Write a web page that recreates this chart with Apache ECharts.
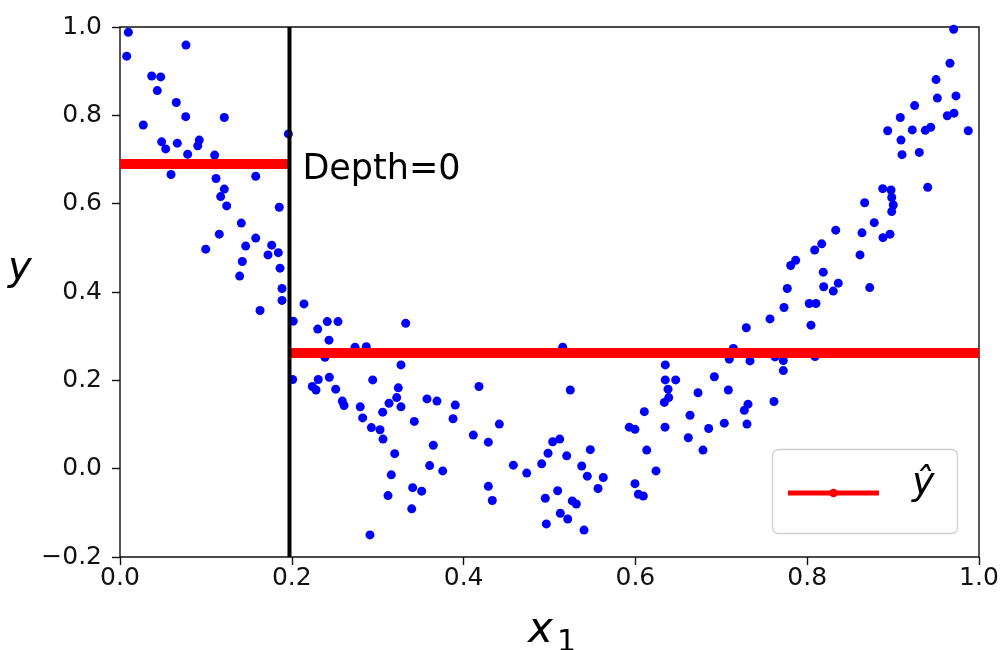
<!DOCTYPE html>
<html>
<head>
<meta charset="utf-8">
<title>Regression tree, depth 0</title>
<script src="https://cdn.jsdelivr.net/npm/echarts@6/dist/echarts.min.js"></script>
<style>
  html, body { margin: 0; padding: 0; background: #fff; }
  #chart { width: 1005px; height: 650px; }
</style>
</head>
<body>
<div id="chart"></div>
<script>
// Training samples (x1, y)
const xValues = [
  0.0097, 0.0078, 0.0768, 0.0369, 0.0474, 0.0434, 0.0655, 0.0765, 0.1214, 0.0271,
  0.1960, 0.0485, 0.0532, 0.0667, 0.0923, 0.0905, 0.0788, 0.1102, 0.0594, 0.1118,
  0.1580, 0.1214, 0.1172, 0.1242, 0.1854, 0.1412, 0.1156, 0.1580, 0.0998, 0.1463,
  0.1766, 0.1723, 0.1843, 0.1424, 0.1863, 0.1393, 0.1886, 0.1886, 0.1630, 0.0950,
  0.2142, 0.2017, 0.2010, 0.2413, 0.2538, 0.2302, 0.2433, 0.3326, 0.2736, 0.2867,
  0.2386, 0.3271, 0.2308, 0.2437, 0.2239, 0.2282, 0.2511, 0.2942, 0.3240, 0.3221,
  0.3132, 0.3271, 0.2588, 0.2608, 0.2797, 0.2825, 0.3058, 0.3574, 0.3690, 0.3903,
  0.3877, 0.3426, 0.2926, 0.3027, 0.3062, 0.4113, 0.4179, 0.3647, 0.3198, 0.3605,
  0.3757, 0.3158, 0.3407, 0.3512, 0.3120, 0.3396, 0.2910,
  0.5154, 0.5242, 0.4416, 0.4288, 0.5037, 0.5119, 0.4983, 0.5200, 0.5475, 0.4579,
  0.4735, 0.4909, 0.5375, 0.5440, 0.5626, 0.4288, 0.4334, 0.5095, 0.4951, 0.5565,
  0.5265, 0.5312, 0.5126, 0.5212, 0.4963, 0.5402,
  0.6104, 0.5929, 0.5995, 0.6132, 0.6240, 0.5995, 0.6034, 0.6092, 0.6348, 0.6348,
  0.6469, 0.6380, 0.6388, 0.6337, 0.6919, 0.6729, 0.7082, 0.6636, 0.6345, 0.6853,
  0.7035, 0.7299, 0.6616, 0.6787, 0.7311, 0.7268, 0.7613, 0.7567, 0.7291, 0.7140,
  0.7093, 0.7334, 0.7625, 0.7722, 0.7722, 0.8091,
  0.8332, 0.8781, 0.8638, 0.8882, 0.8964, 0.8169, 0.8087, 0.8615, 0.7866, 0.7808,
  0.8187, 0.7768, 0.8192, 0.8362, 0.8304, 0.8728, 0.8024, 0.8102, 0.7730, 0.8044,
  0.8669, 0.9002, 0.8984, 0.8984, 0.8879, 0.8976, 0.9403, 0.9705, 0.9662, 0.9500,
  0.9515, 0.9732, 0.9251, 0.9084, 0.9631, 0.9709, 0.8937, 0.9223, 0.9375, 0.9438,
  0.9875, 0.9092, 0.9104, 0.9305
];
const yValues = [
  0.988, 0.934, 0.959, 0.889, 0.887, 0.856, 0.829, 0.797, 0.795, 0.778,
  0.758, 0.740, 0.724, 0.737, 0.744, 0.731, 0.712, 0.710, 0.666, 0.657,
  0.662, 0.633, 0.616, 0.595, 0.592, 0.556, 0.531, 0.522, 0.497, 0.504,
  0.506, 0.484, 0.489, 0.469, 0.454, 0.436, 0.408, 0.381, 0.358, 0.690,
  0.373, 0.334, 0.202, 0.333, 0.333, 0.316, 0.291, 0.329, 0.275, 0.276,
  0.252, 0.235, 0.202, 0.207, 0.186, 0.178, 0.180, 0.201, 0.183, 0.161,
  0.148, 0.140, 0.153, 0.143, 0.140, 0.115, 0.128, 0.158, 0.153, 0.144,
  0.113, 0.107, 0.093, 0.088, 0.067, 0.076, 0.186, 0.053, 0.034, 0.007,
  -0.005, -0.014, -0.043, -0.051, -0.061, -0.091, -0.150,
  0.275, 0.178, 0.101, 0.060, 0.061, 0.067, 0.035, 0.029, 0.043, 0.008,
  -0.010, 0.011, 0.006, -0.017, -0.020, -0.040, -0.072, -0.050, -0.067, -0.045,
  -0.073, -0.080, -0.101, -0.114, -0.125, -0.139,
  0.129, 0.094, 0.089, 0.042, -0.005, -0.034, -0.058, -0.062, 0.235, 0.201,
  0.201, 0.180, 0.161, 0.150, 0.208, 0.172, 0.178, 0.121, 0.094, 0.091,
  0.103, 0.101, 0.070, 0.042, 0.146, 0.132, 0.152, 0.339, 0.319, 0.272,
  0.248, 0.244, 0.253, 0.245, 0.222, 0.254,
  0.540, 0.557, 0.534, 0.523, 0.531, 0.509, 0.495, 0.484, 0.472, 0.460,
  0.445, 0.408, 0.412, 0.420, 0.402, 0.410, 0.374, 0.374, 0.365, 0.325,
  0.602, 0.597, 0.582, 0.614, 0.634, 0.631, 0.637, 0.995, 0.918, 0.881,
  0.839, 0.844, 0.822, 0.795, 0.799, 0.805, 0.765, 0.767, 0.766, 0.773,
  0.765, 0.744, 0.711, 0.716
];

// Depth-0 tree: one split and the two leaf predictions
const splitThreshold = 0.1973;
const leafValues = [0.690, 0.262];
const xRange = [0, 1];
const yRange = [-0.2, 1.0];
const depthLabel = 'Depth=0';
const legendLabel = 'ŷ';

const points = xValues.map((x, i) => [x, yValues[i]]);
const leftLeaf = [[xRange[0], leafValues[0]], [splitThreshold, leafValues[0]]];
const rightLeaf = [[splitThreshold, leafValues[1]], [xRange[1], leafValues[1]]];
const splitLine = [[splitThreshold, yRange[0]], [splitThreshold, yRange[1]]];

const FONT = 'DejaVu Sans';
const tickFmt = v => (v < -1e-9 ? '\u2212' : '') + Math.abs(v).toFixed(1);

const chart = echarts.init(document.getElementById('chart'), null, { renderer: 'canvas' });

chart.setOption({
  animation: false,
  backgroundColor: '#ffffff',
  grid: {
    left: 120, right: 26, top: 27, bottom: 93,
    show: true, borderColor: '#111', borderWidth: 1.4, backgroundColor: 'transparent'
  },
  xAxis: {
    type: 'value', min: xRange[0], max: xRange[1], interval: 0.2,
    splitLine: { show: false },
    axisLine: { show: false, onZero: false },
    axisTick: { show: true, length: 8, lineStyle: { color: '#111', width: 1.4 } },
    axisLabel: { fontFamily: FONT, fontSize: 25, color: '#111', margin: 9, formatter: tickFmt }
  },
  yAxis: {
    type: 'value', min: yRange[0], max: yRange[1], interval: 0.2,
    splitLine: { show: false },
    axisLine: { show: false, onZero: false },
    axisTick: { show: true, length: 8, lineStyle: { color: '#111', width: 1.4 } },
    axisLabel: { fontFamily: FONT, fontSize: 25, color: '#111', margin: 18, formatter: tickFmt }
  },
  series: [
    {
      name: 'samples', type: 'scatter', data: points,
      symbol: 'circle', symbolSize: 9,
      itemStyle: { color: '#0000ff', opacity: 1 }, z: 2
    },
    {
      name: legendLabel, type: 'line', data: leftLeaf,
      symbol: 'none', lineStyle: { color: '#ff0000', width: 10, cap: 'butt' }, z: 3
    },
    {
      name: legendLabel, type: 'line', data: rightLeaf,
      symbol: 'none', lineStyle: { color: '#ff0000', width: 10, cap: 'butt' }, z: 3
    },
    {
      name: 'split', type: 'line', data: splitLine,
      symbol: 'none', lineStyle: { color: '#000000', width: 4 }, z: 4
    }
  ]
});

// Annotation, axis titles and legend placed from data coordinates
const depthPos = chart.convertToPixel({ gridIndex: 0 }, [0.21, 0.65]);
chart.setOption({
  graphic: [
    {
      type: 'text', left: depthPos[0] + 2, top: depthPos[1] - 29,
      style: { text: depthLabel, fontFamily: FONT, fontSize: 35, fill: '#000' }, z: 10
    },
    {
      type: 'text', left: 8, top: 250,
      style: { text: 'y', fontFamily: FONT, fontStyle: 'italic', fontSize: 40, fill: '#000' }, z: 10
    },
    {
      type: 'text', left: 528, top: 610,
      style: { text: 'x', fontFamily: FONT, fontStyle: 'italic', fontSize: 42, fill: '#000' }, z: 10
    },
    {
      type: 'text', left: 557, top: 628,
      style: { text: '1', fontFamily: FONT, fontSize: 30, fill: '#000' }, z: 10
    },
    {
      type: 'group', z: 10,
      children: [
        {
          type: 'rect', shape: { x: 772.5, y: 449.5, width: 185, height: 84, r: 6 },
          style: { fill: 'rgba(255,255,255,0.8)', stroke: '#d0d0d0', lineWidth: 1.3 }
        },
        {
          type: 'line', shape: { x1: 788, y1: 493, x2: 879, y2: 493 },
          style: { stroke: '#ff0000', lineWidth: 5 }
        },
        {
          type: 'circle', shape: { cx: 833.5, cy: 493, r: 4.3 },
          style: { fill: '#ff0000' }
        },
        {
          type: 'text', left: 912, top: 465,
          style: { text: legendLabel, fontFamily: FONT, fontStyle: 'italic', fontSize: 38, fill: '#000' }
        }
      ]
    }
  ]
});
</script>
</body>
</html>
